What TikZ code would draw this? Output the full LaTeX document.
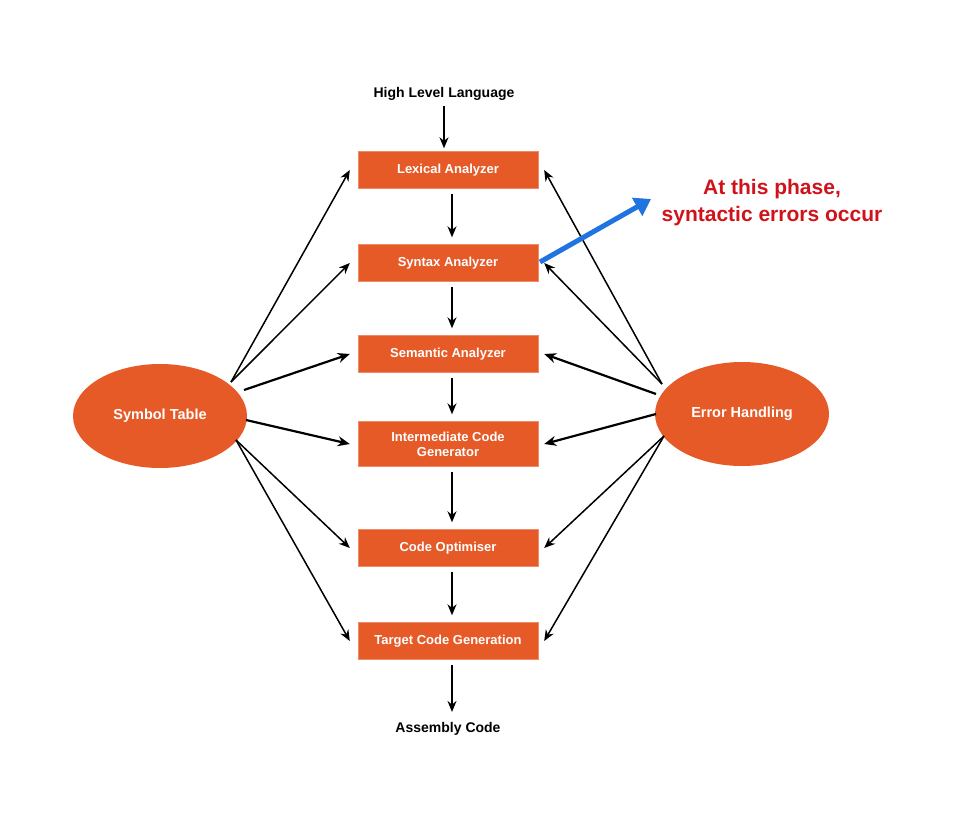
\documentclass[tikz,border=0pt]{standalone}
\usepackage{fontspec}
\setmainfont{Liberation Sans}
\usetikzlibrary{shapes.geometric,arrows.meta}
\definecolor{org}{HTML}{E65A28}
\definecolor{redt}{HTML}{D0131A}
\definecolor{bl}{HTML}{1F74E0}
\begin{document}
\begin{tikzpicture}[x=1pt,y=-1pt,
 box/.style={draw=org!70!white,fill=org,text=white,minimum width=180pt,minimum height=37pt,font=\bfseries\fontsize{13}{15}\selectfont,align=center,inner sep=1pt},
 ell/.style={ellipse,fill=org,text=white,minimum width=174pt,minimum height=104pt,font=\bfseries\fontsize{14.5}{17}\selectfont},
 lab/.style={font=\bfseries\fontsize{14}{17}\selectfont},
 ar/.style={-{Stealth[length=11pt,width=9pt]},line width=1.5pt},
 ar2/.style={-{Stealth[length=12pt,width=10pt]},line width=2.2pt},
 va/.style={ar,shorten <=5pt,shorten >=7pt}]
\useasboundingbox (0,0) rectangle (955,814);
\node[lab] (hll) at (444,94) {High Level Language};
\node[box] (b1) at (448,170) {Lexical Analyzer};
\node[box] (b2) at (448,263) {Syntax Analyzer};
\node[box] (b3) at (448,354) {Semantic Analyzer};
\node[box,minimum height=45pt] (b4) at (448,444) {Intermediate Code\\Generator};
\node[box] (b5) at (448,548) {Code Optimiser};
\node[box] (b6) at (448,641) {Target Code Generation};
\node[lab] (ac) at (448,729) {Assembly Code};
\node[ell] (st) at (160,416) {Symbol Table};
\node[ell] (eh) at (742,414) {Error Handling};
\draw[ar,shorten <=2pt,shorten >=3pt] (hll.south) -- (hll.south|-b1.north);
\draw[va] ([xshift=4pt]b1.south) -- ([xshift=4pt]b2.north);
\draw[va] ([xshift=4pt]b2.south) -- ([xshift=4pt]b3.north);
\draw[va] ([xshift=4pt]b3.south) -- ([xshift=4pt]b4.north);
\draw[va] ([xshift=4pt]b4.south) -- ([xshift=4pt]b5.north);
\draw[va] ([xshift=4pt]b5.south) -- ([xshift=4pt]b6.north);
\draw[va] ([xshift=4pt]b6.south) -- ([xshift=4pt]ac.north);
\coordinate (s1) at (231,382);
\coordinate (s2) at (244,390);
\coordinate (s3) at (246,420);
\coordinate (s4) at (236,440);
\draw[ar] (s1) -- ([xshift=-8pt]b1.west);
\draw[ar] (s1) -- ([xshift=-8pt]b2.west);
\draw[ar2] (s2) -- ([xshift=-8pt]b3.west);
\draw[ar2] (s3) -- ([xshift=-8pt]b4.west);
\draw[ar] (s4) -- ([xshift=-8pt]b5.west);
\draw[ar] (s4) -- ([xshift=-8pt]b6.west);
\coordinate (e1) at (662,384);
\coordinate (e2) at (656,394);
\coordinate (e3) at (656,414);
\coordinate (e4) at (664,436);
\draw[ar] (e1) -- ([xshift=6pt]b1.east);
\draw[ar] (e1) -- ([xshift=6pt]b2.east);
\draw[ar2] (e2) -- ([xshift=6pt]b3.east);
\draw[ar2] (e3) -- ([xshift=6pt]b4.east);
\draw[ar] (e4) -- ([xshift=6pt]b5.east);
\draw[ar] (e4) -- ([xshift=6pt]b6.east);
\coordinate (bs) at (540,262);
\coordinate (be) at (651,199);
\draw[bl,line width=5pt,-{Triangle[length=16pt,width=20pt]}] (bs) -- (be);
\node[text=redt,font=\bfseries\fontsize{21}{27}\selectfont,align=center] (note) at (772,203) {At this phase,\\syntactic errors occur};
\end{tikzpicture}
\end{document}
